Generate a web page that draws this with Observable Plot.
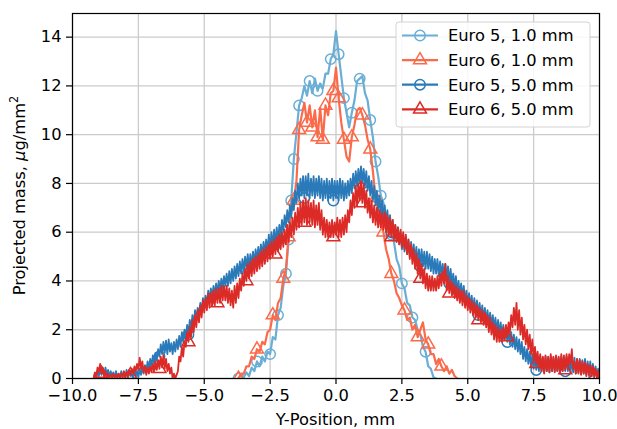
<!DOCTYPE html>
<html><head><meta charset="utf-8">
<script src="https://cdn.jsdelivr.net/npm/d3@7"></script>
<script src="https://cdn.jsdelivr.net/npm/@observablehq/plot@0.6"></script>
<style>
body{margin:0;background:#fff;}
#chart{position:relative;width:617px;height:429px;}
</style></head><body><div id="chart"></div>
<script>
// ---- data ----
const seriesNames = ["Euro 5, 1.0 mm", "Euro 6, 1.0 mm", "Euro 5, 5.0 mm", "Euro 6, 5.0 mm"];
const seriesColors = ["#6aaed6", "#fb6a4a", "#2a7ab9", "#dc2a26"];
const seriesSymbols = ["circle", "triangle", "circle", "triangle"];
const xTicks = [-10, -7.5, -5, -2.5, 0, 2.5, 5, 7.5, 10];
const yTicks = [0, 2, 4, 6, 8, 10, 12, 14];
const xStep1mm = 0.1, xStep5mm = 0.05;
const xStart1mm = -3.7;
const xStart5mm = -9.2;

// Euro 5, 1.0 mm (x from -3.7 by 0.1)
const euro5_1mm = [
  0.0, 0.15, 0.05, 0.25, 0.1, 0.45, 0.3, 0.7, 0.5, 0.9,
  0.7, 1.1, 1.0, 1.7, 1.6, 2.6, 2.9, 3.8, 4.3, 5.7,
  7.3, 9.0, 10.1, 11.2, 11.5, 12.0, 11.6, 12.2, 11.7, 12.3,
  11.8, 12.1, 11.9, 12.5, 12.5, 13.1, 13.3, 14.25, 13.3, 12.4,
  11.5, 10.9, 10.3, 10.9, 11.4, 12.2, 12.3, 12.4, 11.7, 11.4,
  10.6, 9.9, 8.9, 8.3, 7.5, 7.2, 6.6, 6.5, 5.9, 5.6,
  4.9, 4.6, 3.9, 3.7, 3.1, 3.0, 2.5, 2.4, 2.0, 1.8,
  1.3, 1.1, 0.5, 0.4, 0.05, 0.0
];
// Euro 6, 1.0 mm (x from -3.7 by 0.1)
const euro6_1mm = [
  0.0, 0.2, 0.2, 0.5, 0.5, 0.9, 0.8, 1.2, 1.1, 1.5,
  1.4, 1.9, 2.0, 2.6, 2.4, 3.1, 3.3, 4.1, 4.5, 5.8,
  6.8, 7.3, 8.1, 10.2, 10.8, 11.3, 10.5, 11.2, 10.3, 11.0,
  9.9, 11.1, 9.8, 11.2, 10.8, 11.7, 11.8, 12.75, 11.5, 10.5,
  9.8, 9.1, 8.9, 9.9, 10.4, 11.0, 11.1, 10.8, 10.4, 9.8,
  9.4, 8.5, 7.4, 6.9, 6.3, 6.0, 5.3, 4.9, 4.3, 4.0,
  3.5, 3.3, 3.0, 2.8, 2.4, 2.5, 2.0, 2.2, 1.7, 2.0,
  2.3, 1.6, 1.4, 1.0, 1.0, 0.6, 0.8, 0.5, 0.3, 0.5,
  0.2, 0.35, 0.1, 0.0
];
// Euro 5, 5.0 mm (x from -9.2 by 0.05)
const euro5_5mm = [
  0.0, 0.2, 0.05, 0.3, 0.1, 0.4, 0.15, 0.35, 0.1, 0.45,
  0.15, 0.35, 0.05, 0.3, 0.1, 0.25, 0.0, 0.3, 0.05, 0.2,
  0.0, 0.3, 0.1, 0.25, 0.0, 0.35, 0.05, 0.3, 0.1, 0.2,
  0.0, 0.35, 0.1, 0.3, 0.05, 0.4, 0.15, 0.45, 0.2, 0.55,
  0.3, 0.7, 0.4, 0.8, 0.5, 0.95, 0.6, 1.05, 0.75, 1.2,
  0.9, 1.4, 1.0, 1.5, 1.05, 1.55, 1.0, 1.6, 1.1, 1.45,
  1.0, 1.5, 1.1, 1.6, 1.2, 1.75, 1.3, 1.9, 1.5, 2.0,
  1.6, 2.2, 1.8, 2.4, 2.0, 2.6, 2.2, 2.8, 2.4, 2.9,
  2.6, 3.1, 2.7, 3.3, 2.9, 3.4, 3.0, 3.6, 3.2, 3.7,
  3.3, 3.8, 3.4, 3.9, 3.5, 4.0, 3.6, 4.1, 3.7, 4.2,
  3.8, 4.3, 3.8, 4.4, 3.9, 4.5, 4.0, 4.6, 4.1, 4.7,
  4.2, 4.8, 4.3, 4.9, 4.4, 5.0, 4.5, 5.1, 4.5, 5.1,
  4.6, 5.2, 4.7, 5.3, 4.8, 5.4, 4.9, 5.5, 5.0, 5.6,
  5.1, 5.7, 5.2, 5.9, 5.3, 6.0, 5.4, 6.1, 5.5, 6.2,
  5.6, 6.3, 5.8, 6.5, 6.0, 6.7, 6.2, 6.9, 6.4, 7.1,
  6.6, 7.4, 6.9, 7.7, 7.2, 8.0, 7.4, 8.2, 7.5, 8.3,
  7.4, 8.3, 7.5, 8.4, 7.4, 8.2, 7.5, 8.3, 7.4, 8.2,
  7.5, 8.3, 7.4, 8.2, 7.3, 8.1, 7.4, 8.2, 7.3, 8.1,
  7.4, 8.2, 7.3, 8.1, 7.4, 8.1, 7.3, 8.2, 7.4, 8.1,
  7.3, 8.0, 7.4, 8.1, 7.5, 8.2, 7.6, 8.4, 7.8, 8.5,
  7.9, 8.6, 8.0, 8.7, 8.0, 8.6, 7.9, 8.5, 7.7, 8.3,
  7.5, 8.1, 7.3, 7.9, 7.1, 7.7, 6.9, 7.5, 6.7, 7.3,
  6.5, 7.1, 6.3, 6.9, 6.1, 6.7, 6.0, 6.5, 5.8, 6.3,
  5.6, 6.2, 5.5, 6.0, 5.3, 5.9, 5.2, 5.8, 5.1, 5.7,
  5.0, 5.6, 4.9, 5.5, 4.8, 5.4, 4.7, 5.3, 4.6, 5.3,
  4.6, 5.2, 4.5, 5.2, 4.5, 5.1, 4.4, 5.0, 4.3, 4.9,
  4.3, 4.9, 4.2, 4.8, 4.2, 4.7, 4.1, 4.7, 4.0, 4.6,
  3.9, 4.5, 3.8, 4.3, 3.7, 4.2, 3.5, 4.0, 3.4, 3.9,
  3.3, 3.8, 3.1, 3.6, 3.0, 3.5, 2.9, 3.4, 2.8, 3.3,
  2.7, 3.2, 2.6, 3.1, 2.5, 3.0, 2.4, 2.9, 2.3, 2.8,
  2.2, 2.7, 2.1, 2.6, 2.0, 2.5, 1.9, 2.4, 1.8, 2.3,
  1.7, 2.2, 1.6, 2.1, 1.5, 2.0, 1.4, 1.9, 1.3, 1.8,
  1.2, 1.7, 1.1, 1.6, 1.0, 1.5, 0.8, 1.3, 0.7, 1.2,
  0.6, 1.1, 0.5, 1.0, 0.4, 0.95, 0.35, 0.9, 0.3, 0.9,
  0.3, 0.85, 0.25, 0.9, 0.3, 0.85, 0.25, 0.9, 0.3, 0.85,
  0.3, 0.9, 0.3, 0.85, 0.25, 0.9, 0.3, 0.85, 0.3, 0.9,
  0.3, 0.85, 0.25, 0.8, 0.25, 0.85, 0.2, 0.8, 0.25, 0.8,
  0.2, 0.75, 0.2, 0.8, 0.15, 0.7, 0.15, 0.7, 0.1, 0.6,
  0.1, 0.5, 0.05, 0.4, 0.1
];
// Euro 6, 5.0 mm (x from -9.2 by 0.05)
const euro6_5mm = [
  0.0, 0.25, 0.1, 0.45, 0.3, 0.6, 0.2, 0.45, 0.1, 0.3,
  0.0, 0.2, 0.05, 0.15, 0.0, 0.2, 0.05, 0.15, 0.0, 0.2,
  0.05, 0.2, 0.0, 0.3, 0.1, 0.25, 0.05, 0.35, 0.15, 0.4,
  0.2, 0.5, 0.3, 0.6, 0.35, 0.85, 0.4, 0.7, 0.25, 0.5,
  0.15, 0.45, 0.2, 0.5, 0.25, 0.6, 0.3, 0.7, 0.35, 0.75,
  0.4, 0.9, 0.45, 0.95, 0.4, 0.8, 0.3, 0.6, 0.2, 0.45,
  0.0, 0.2, 0.0, 0.15, 0.3, 0.9, 0.7, 1.3, 0.9, 1.5,
  1.3, 1.9, 1.5, 2.1, 1.7, 2.4, 1.9, 2.6, 2.1, 2.8,
  2.3, 3.0, 2.5, 3.2, 2.7, 3.3, 2.8, 3.5, 2.9, 3.5,
  3.0, 3.6, 3.0, 3.7, 3.1, 3.7, 3.1, 3.8, 3.2, 3.8,
  3.2, 3.8, 3.1, 3.7, 3.0, 3.6, 2.9, 3.8, 3.1, 3.9,
  3.3, 4.1, 3.6, 4.3, 3.8, 4.5, 4.0, 4.7, 4.1, 4.8,
  4.2, 4.9, 4.3, 5.0, 4.4, 5.1, 4.5, 5.2, 4.6, 5.3,
  4.7, 5.4, 4.8, 5.5, 4.9, 5.6, 5.0, 5.7, 5.1, 5.8,
  5.2, 5.9, 5.3, 6.0, 5.4, 6.1, 5.5, 6.3, 5.6, 6.4,
  5.8, 6.6, 5.9, 6.8, 6.1, 7.0, 6.2, 7.2, 6.3, 7.3,
  6.4, 7.4, 6.3, 7.3, 6.4, 7.2, 6.3, 7.3, 6.2, 7.1,
  6.3, 7.2, 6.1, 6.9, 5.9, 6.6, 5.8, 6.5, 5.8, 6.4,
  5.8, 6.5, 5.8, 6.4, 5.9, 6.6, 5.8, 6.5, 5.8, 6.6,
  5.9, 6.7, 6.0, 6.9, 6.4, 7.3, 6.7, 7.6, 7.0, 7.9,
  7.1, 8.0, 7.3, 8.1, 7.2, 8.0, 7.0, 7.7, 6.8, 7.4,
  6.6, 7.3, 6.4, 7.1, 6.3, 7.0, 6.2, 6.9, 6.2, 6.8,
  6.1, 6.8, 6.0, 6.7, 5.9, 6.6, 5.8, 6.5, 5.7, 6.3,
  5.6, 6.2, 5.5, 6.1, 5.4, 6.0, 5.3, 5.9, 5.1, 5.7,
  4.9, 5.5, 4.7, 5.3, 4.5, 5.1, 4.3, 4.9, 4.1, 4.7,
  3.9, 4.5, 3.7, 4.3, 3.6, 4.2, 3.6, 4.2, 3.6, 4.1,
  3.6, 4.2, 3.7, 4.3, 3.8, 4.4, 3.9, 4.7, 3.6, 4.2,
  3.5, 4.0, 3.4, 3.9, 3.3, 3.8, 3.2, 3.7, 3.1, 3.6,
  3.0, 3.6, 2.9, 3.4, 2.8, 3.3, 2.7, 3.2, 2.6, 3.1,
  2.5, 3.0, 2.4, 2.9, 2.3, 2.8, 2.2, 2.7, 2.1, 2.6,
  1.9, 2.5, 1.8, 2.3, 1.6, 2.2, 1.5, 2.1, 1.5, 2.0,
  1.5, 2.1, 1.6, 2.2, 1.7, 2.3, 1.9, 2.6, 2.1, 2.9,
  2.2, 3.1, 2.0, 2.8, 1.8, 2.5, 1.6, 2.2, 1.4, 2.0,
  1.2, 1.8, 1.0, 1.6, 0.8, 1.3, 0.6, 1.1, 0.5, 1.0,
  0.3, 0.9, 0.2, 0.95, 0.3, 0.9, 0.25, 1.0, 0.3, 0.9,
  0.25, 0.95, 0.3, 0.9, 0.2, 1.0, 0.3, 0.95, 0.35, 1.0,
  0.4, 1.0, 0.6, 1.2, 0.4, 0.7, 0.2, 0.8, 0.2, 0.75,
  0.15, 0.7, 0.2, 0.65, 0.1, 0.6, 0.15, 0.55, 0.1, 0.5,
  0.05, 0.4, 0.05, 0.3, 0.05
];

const seriesValues = [euro5_1mm, euro6_1mm, euro5_5mm, euro6_5mm];
const seriesStarts = [xStart1mm, xStart1mm, xStart5mm, xStart5mm];
const seriesSteps = [xStep1mm, xStep1mm, xStep5mm, xStep5mm];

// ---- layout ----
const W = 617, H = 429;
const mL = 72, mR = 18, mT = 13, mB = 51;
const yMax = 14.97;
const FONT = "'DejaVu Sans', sans-serif";
const FS = 16.3;

const tables = seriesValues.map((vals, s) =>
  vals.map((v, i) => ({series: seriesNames[s], x: +(seriesStarts[s] + i * seriesSteps[s]).toFixed(3), y: v, i}))
);

// marker placement by path length in pixels (like matplotlib float markevery)
const pxPerX = (W - mL - mR) / 20, pxPerY = (H - mT - mB) / yMax;
function markerRows(rows, spacing) {
  const out = [rows[0]];
  let acc = 0, next = spacing;
  for (let k = 1; k < rows.length; k++) {
    const dx = (rows[k].x - rows[k - 1].x) * pxPerX, dy = (rows[k].y - rows[k - 1].y) * pxPerY;
    acc += Math.hypot(dx, dy);
    if (acc >= next) { out.push(rows[k]); next = acc + spacing; }
  }
  return out;
}
const markerSets = tables.map((rows, s) => s < 2 ? markerRows(rows, 34) : rows.filter(d => d.i % 22 === 6));

const fmtX = d => (d < 0 ? "\u2212" : "") + Math.abs(d).toFixed(1);

const marks = [
  Plot.gridX(xTicks, {stroke: "#cbcbcb", strokeOpacity: 1, strokeWidth: 1.3}),
  Plot.gridY(yTicks, {stroke: "#cbcbcb", strokeOpacity: 1, strokeWidth: 1.3})
];
tables.forEach((rows, s) => {
  marks.push(Plot.line(rows, {x: "x", y: "y", stroke: seriesColors[s], strokeWidth: s < 2 ? 2.2 : 1.8, strokeLinejoin: "round", clip: true}));
  marks.push(Plot.dot(markerSets[s], {
    x: "x", y: "y", symbol: seriesSymbols[s], r: seriesSymbols[s] === "circle" ? 5.2 : 4.8,
    stroke: seriesColors[s], strokeWidth: 1.5, fill: "none", clip: true
  }));
});
marks.push(Plot.frame({stroke: "#000", strokeWidth: 1.2}));
marks.push(Plot.axisX(xTicks, {tickSize: 6, tickPadding: 5, fontSize: FS, tickFormat: fmtX, label: null, stroke: "#000", strokeWidth: 1.2}));
marks.push(Plot.axisY(yTicks, {tickSize: 6, tickPadding: 5, fontSize: FS, tickFormat: d => String(d), label: null, stroke: "#000", strokeWidth: 1.2}));

const svg = Plot.plot({
  width: W, height: H,
  marginLeft: mL, marginRight: mR, marginTop: mT, marginBottom: mB,
  style: {fontFamily: FONT, fontSize: FS + "px", color: "#000", background: "#fff"},
  x: {domain: [-10, 10]},
  y: {domain: [0, yMax]},
  marks
});
document.getElementById("chart").appendChild(svg);

// ---- axis labels and legend ----
const g = d3.select(svg).append("g").attr("font-family", FONT).attr("font-size", FS).attr("fill", "#000");
g.append("text").attr("x", (mL + W - mR) / 2).attr("y", 425).attr("text-anchor", "middle").text("Y-Position, mm");
const yl = g.append("text").attr("transform", `translate(25,${(mT + H - mB) / 2}) rotate(-90)`).attr("text-anchor", "middle");
yl.append("tspan").text("Projected mass, ");
yl.append("tspan").attr("font-style", "italic").text("\u03bc");
yl.append("tspan").text("g/mm");
yl.append("tspan").attr("font-size", FS * 0.7).attr("dy", -7).text("2");

const lg = g.append("g");
lg.append("rect").attr("x", 396).attr("y", 22).attr("width", 194).attr("height", 105).attr("rx", 3)
  .attr("fill", "#fff").attr("fill-opacity", 0.85).attr("stroke", "#d3d3d3").attr("stroke-width", 1);
seriesNames.forEach((name, s) => {
  const cy = 35.5 + s * 24.6;
  lg.append("line").attr("x1", 402).attr("x2", 438).attr("y1", cy).attr("y2", cy)
    .attr("stroke", seriesColors[s]).attr("stroke-width", 2.2);
  const sym = d3.symbol().type(seriesSymbols[s] === "circle" ? d3.symbolCircle : d3.symbolTriangle)
    .size(Math.PI * Math.pow(seriesSymbols[s] === "circle" ? 5.2 : 4.8, 2));
  lg.append("path").attr("d", sym()).attr("transform", `translate(420,${cy})`)
    .attr("fill", "none").attr("stroke", seriesColors[s]).attr("stroke-width", 1.5);
  lg.append("text").attr("x", 448).attr("y", cy).attr("dy", "0.36em").attr("text-anchor", "start").text(name);
});
</script></body></html>
